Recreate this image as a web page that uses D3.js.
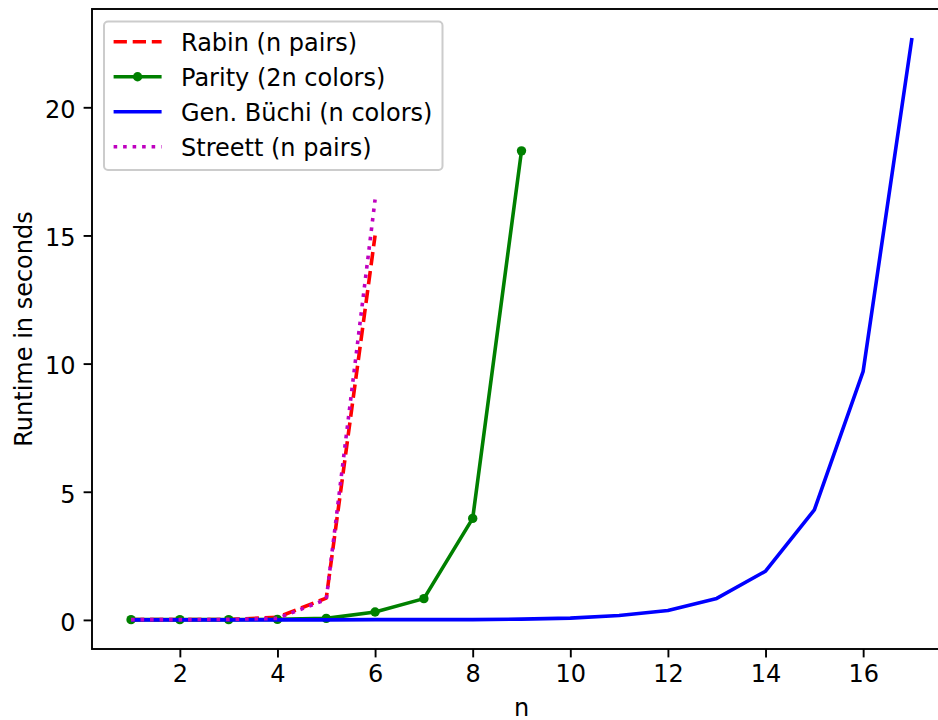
<!DOCTYPE html>
<html>
<head>
<meta charset="utf-8">
<script src="https://cdn.jsdelivr.net/npm/d3@7"></script>
<style>
  body { margin: 0; background: #fff; }
  text { font-family: "DejaVu Sans", sans-serif; fill: #000; }
</style>
</head>
<body>
<svg width="938" height="720"></svg>
<script>
// runtimes in seconds
var rabinN = [1, 2, 3, 4, 5, 6];
var rabin = [0.01, 0.01, 0.02, 0.1, 0.85, 15.0];
var parityN = [1, 2, 3, 4, 5, 6, 7, 8, 9];
var parity = [0.01, 0.01, 0.01, 0.02, 0.06, 0.31, 0.83, 3.96, 18.3];
var buchiN = [1, 2, 3, 4, 5, 6, 7, 8, 9, 10, 11, 12, 13, 14, 15, 16, 17];
var buchi = [0, 0, 0, 0, 0, 0.01, 0.01, 0.01, 0.03, 0.07, 0.17, 0.37, 0.84, 1.9, 4.29, 9.7, 22.7];
var streettN = [1, 2, 3, 4, 5, 6];
var streett = [0.01, 0.01, 0.02, 0.06, 0.8, 16.4];

var xTicks = [2, 4, 6, 8, 10, 12, 14, 16];
var yTicks = [0, 5, 10, 15, 20];
var labels = ["Rabin (n pairs)", "Parity (2n colors)", "Gen. Büchi (n colors)", "Streett (n pairs)"];

var svg = d3.select("svg"),
  plotL = 92, plotR = 951, plotT = 9, plotB = 649;

var x = d3.scaleLinear().domain([0.2, 17.8]).range([plotL, plotR]),
  y = d3.scaleLinear().domain([-1.135, 23.835]).range([plotB, plotT]);

function zip(a, b) { return a.map(function(d, i) { return [d, b[i]]; }); }

var line = d3.line()
  .x(function(d) { return x(d[0]); })
  .y(function(d) { return y(d[1]); });

var series = [
  { data: zip(rabinN, rabin), color: "#ff0000", dash: "13.3,5.8" },
  { data: zip(parityN, parity), color: "#008000", dash: null, dots: true },
  { data: zip(buchiN, buchi), color: "#0000ff", dash: null },
  { data: zip(streettN, streett), color: "#bf00bf", dash: "3.6,5.9" }
];

// lines
series.forEach(function(s) {
  svg.append("path")
    .datum(s.data)
    .attr("fill", "none")
    .attr("stroke", s.color)
    .attr("stroke-width", 3.6)
    .attr("stroke-linejoin", "round")
    .attr("stroke-dasharray", s.dash)
    .attr("d", line);
  if (s.dots) {
    svg.append("g")
      .selectAll("circle")
      .data(s.data)
      .enter()
      .append("circle")
      .attr("cx", function(d) { return x(d[0]); })
      .attr("cy", function(d) { return y(d[1]); })
      .attr("r", 4.7)
      .style("fill", s.color);
  }
});

// frame
svg.append("rect")
  .attr("x", plotL).attr("y", plotT)
  .attr("width", plotR - plotL).attr("height", plotB - plotT)
  .attr("fill", "none")
  .attr("stroke", "#000")
  .attr("stroke-width", 1.9);

// X axis
var xAxis = svg.append("g")
  .attr("transform", "translate(0," + plotB + ")")
  .call(d3.axisBottom(x).tickValues(xTicks).tickSize(8.4).tickPadding(6));
// Y axis
var yAxis = svg.append("g")
  .attr("transform", "translate(" + plotL + ",0)")
  .call(d3.axisLeft(y).tickValues(yTicks).tickSize(8.4).tickPadding(8));

[xAxis, yAxis].forEach(function(a) {
  a.select(".domain").remove();
  a.selectAll(".tick line").attr("stroke", "#000").attr("stroke-width", 1.9);
  a.selectAll(".tick text")
    .style("font-family", "DejaVu Sans")
    .style("font-size", "24px")
    .attr("fill", "#000");
});
yAxis.selectAll(".tick text").attr("dy", "0.43em");
xAxis.selectAll(".tick text").attr("dy", "0.76em");

// axis labels
svg.append("text")
  .attr("x", (plotL + plotR) / 2)
  .attr("y", 716)
  .attr("text-anchor", "middle")
  .style("font-size", "24px")
  .text("n");

svg.append("text")
  .attr("text-anchor", "middle")
  .attr("transform", "translate(32," + (plotT + plotB) / 2 + ")rotate(-90)")
  .style("font-size", "24px")
  .text("Runtime in seconds");

// legend
var legend = svg.append("g");
legend.append("rect")
  .attr("x", 104).attr("y", 21.5)
  .attr("width", 338.5).attr("height", 148.5)
  .attr("rx", 4).attr("ry", 4)
  .attr("fill", "#fff").attr("fill-opacity", 0.8)
  .attr("stroke", "#cccccc")
  .attr("stroke-width", 2);

series.forEach(function(s, i) {
  var ly = 41.7 + i * 35;
  legend.append("line")
    .attr("x1", 113.6).attr("x2", 161.6)
    .attr("y1", ly).attr("y2", ly)
    .attr("stroke", s.color)
    .attr("stroke-width", 3.6)
    .attr("stroke-dasharray", s.dash);
  if (s.dots) {
    legend.append("circle")
      .attr("cx", 137.6).attr("cy", ly)
      .attr("r", 4.7)
      .style("fill", s.color);
  }
  legend.append("text")
    .attr("x", 181)
    .attr("y", ly + 9)
    .style("font-size", "24px")
    .text(labels[i]);
});
</script>
</body>
</html>
